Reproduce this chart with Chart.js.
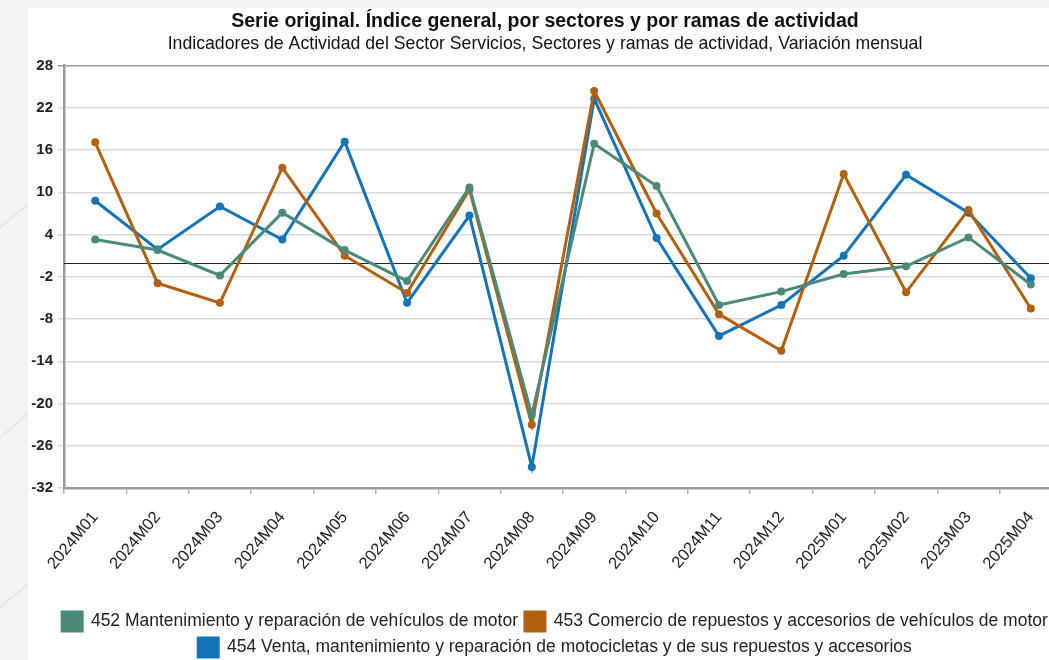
<!DOCTYPE html>
<html>
<head>
<meta charset="utf-8">
<script src="https://cdn.jsdelivr.net/npm/chart.js@4.4.1/dist/chart.umd.min.js"></script>
<style>
    html, body { margin: 0; padding: 0; }
    body {
        width: 1049px; height: 660px; overflow: hidden; position: relative;
        background: #f3f3f4;
    }
    .deco { position: absolute; height: 2px; background: #e6e6e8; transform-origin: left center; }
    #panel { position: absolute; left: 28px; top: 8px; width: 1046px; height: 652px; background: #fff; }
</style>
</head>
<body>
<div class="deco" style="left:-40px; top:260px; width:260px; transform: rotate(-40deg);"></div>
<div class="deco" style="left:-40px; top:470px; width:260px; transform: rotate(-40deg);"></div>
<div class="deco" style="left:-40px; top:640px; width:260px; transform: rotate(-40deg);"></div>
<div id="panel"><canvas id="chart" width="1046" height="652"></canvas></div>
<script>
// ==================== DATA ====================
const months = ['2024M01', '2024M02', '2024M03', '2024M04', '2024M05', '2024M06', '2024M07', '2024M08',
    '2024M09', '2024M10', '2024M11', '2024M12', '2025M01', '2025M02', '2025M03', '2025M04'];

const mantenimiento452 = [3.3, 1.8, -1.8, 7.1, 1.8, -2.6, 10.7, -21.6, 16.9, 10.9, -6.0, -4.1, -1.6, -0.5, 3.6, -3.1];
const comercio453 = [17.1, -2.9, -5.7, 13.5, 1.0, -4.3, 10.4, -23.0, 24.4, 7.0, -7.3, -12.5, 12.6, -4.2, 7.5, -6.5];
const motos454 = [8.8, 1.9, 8.0, 3.3, 17.2, -5.7, 6.7, -29.0, 23.3, 3.5, -10.4, -6.0, 1.0, 12.5, 7.1, -2.2];

const seriesNames = [
    '452 Mantenimiento y reparación de vehículos de motor',
    '453 Comercio de repuestos y accesorios de vehículos de motor',
    '454 Venta, mantenimiento y reparación de motocicletas y de sus repuestos y accesorios'
];
const seriesColors = ['#4b8a7b', '#b1610f', '#1474b6'];

const yMin = -32, yMax = 28, yStep = 6;

const FONT = "'Liberation Sans', Arial, sans-serif";

// reference line at zero, drawn from the y scale
const zeroLine = {
    id: 'zeroLine',
    beforeDatasetsDraw(chart) {
        const { ctx, chartArea, scales } = chart;
        const y = Math.round(scales.y.getPixelForValue(0)) + 0.5;
        ctx.save();
        ctx.strokeStyle = '#222';
        ctx.lineWidth = 1.2;
        ctx.beginPath();
        ctx.moveTo(chartArea.left, y);
        ctx.lineTo(chartArea.right, y);
        ctx.stroke();
        ctx.restore();
    }
};

// legend sits a little right of the title's centre and lower in the original
const legendShift = {
    id: 'legendShift',
    afterLayout(chart) {
        chart.legend.left += 10;
        chart.legend.right += 10;
        chart.legend.top += 7;
        chart.legend.bottom += 7;
    }
};

function makeDataset(i, values) {
    return {
        label: seriesNames[i],
        data: values,
        borderColor: seriesColors[i],
        backgroundColor: seriesColors[i],
        pointBackgroundColor: seriesColors[i],
        pointBorderColor: seriesColors[i],
        borderWidth: 3,
        pointRadius: 4,
        pointBorderWidth: 0,
        tension: 0,
        fill: false
    };
}

new Chart(document.getElementById('chart'), {
    type: 'line',
    data: {
        labels: months,
        datasets: [
            makeDataset(0, mantenimiento452),
            makeDataset(1, comercio453),
            makeDataset(2, motos454)
        ]
    },
    options: {
        responsive: false,
        animation: false,
        layout: { padding: { left: 0, right: 12, top: 0, bottom: 0 } },
        plugins: {
            title: {
                display: true,
                text: 'Serie original. Índice general, por sectores y por ramas de actividad',
                color: '#111',
                font: { family: FONT, size: 19.5, weight: 'bold', lineHeight: 1.2 },
                padding: { top: 2, bottom: 0 }
            },
            subtitle: {
                display: true,
                text: 'Indicadores de Actividad del Sector Servicios, Sectores y ramas de actividad, Variación mensual',
                color: '#111',
                font: { family: FONT, size: 17.7, lineHeight: 1.2 },
                padding: { top: 0, bottom: 11 }
            },
            legend: {
                position: 'bottom',
                labels: {
                    color: '#222',
                    boxWidth: 20,
                    boxHeight: 19,
                    padding: 7,
                    font: { family: FONT, size: 17.5 }
                }
            },
            tooltip: { enabled: false }
        },
        scales: {
            x: {
                offset: true,
                afterFit(scale) { scale.height = 110; },
                grid: { display: true, drawOnChartArea: false, offset: true, tickLength: 6, color: '#b5b5b5', lineWidth: 1.5 },
                border: { color: '#9a9a9a', width: 2.5 },
                ticks: {
                    color: '#222',
                    font: { family: FONT, size: 16.5 },
                    maxRotation: 50,
                    minRotation: 50,
                    autoSkip: false,
                    padding: 14
                }
            },
            y: {
                min: yMin,
                max: yMax,
                afterFit(scale) { scale.width = 36; },
                grid: {
                    tickLength: 6,
                    lineWidth: 1.5,
                    color: ctx => ctx.tick && ctx.tick.value === yMax ? '#9a9a9a' : '#d8d8d8'
                },
                border: { color: '#9a9a9a', width: 2.5 },
                ticks: {
                    stepSize: yStep,
                    color: '#222',
                    font: { family: FONT, size: 15, weight: 'bold' },
                    padding: 5
                }
            }
        }
    },
    plugins: [zeroLine, legendShift]
});
</script>
</body>
</html>
